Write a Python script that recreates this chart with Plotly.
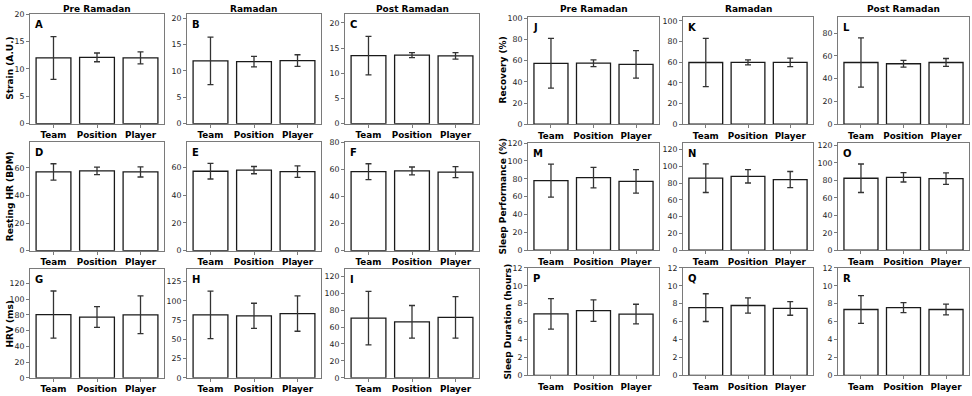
import plotly.graph_objects as go
from plotly.subplots import make_subplots

categories = ["Team", "Position", "Player"]
phases = ["Pre Ramadan", "Ramadan", "Post Ramadan"]

# means / SDs per phase (rows: Pre, Ramadan, Post)
strain_mean = [[12.0, 12.1, 12.0], [11.9, 11.75, 11.95], [13.5, 13.6, 13.45]]
strain_sd = [[3.9, 0.8, 1.1], [4.5, 1.0, 1.1], [3.8, 0.5, 0.65]]
hr_mean = [[57.1, 57.9, 57.1], [57.3, 58.1, 57.0], [58.4, 59.0, 58.1]]
hr_sd = [[5.9, 2.7, 3.7], [5.6, 2.6, 4.1], [5.9, 2.9, 4.1]]
hrv_mean = [[80.3, 77.2, 80.0], [81.8, 80.6, 83.5], [70.6, 66.2, 71.4]]
hrv_sd = [[30.0, 13.2, 24.0], [31.0, 16.3, 23.0], [31.7, 19.3, 24.5]]
rec_mean = [[57.5, 57.6, 56.5], [59.7, 59.8, 59.8], [54.2, 53.1, 54.2]]
rec_sd = [[23.5, 3.2, 13.0], [23.3, 2.5, 4.1], [21.6, 3.0, 3.5]]
sp_mean = [[78.0, 81.3, 77.1], [85.8, 88.1, 84.2], [82.4, 83.5, 82.0]]
sp_sd = [[18.5, 11.5, 13.2], [17.0, 8.0, 9.6], [16.3, 5.4, 6.6]]
sd_mean = [[6.87, 7.22, 6.84], [7.56, 7.8, 7.47], [7.35, 7.56, 7.35]]
sd_sd = [[1.7, 1.2, 1.1], [1.55, 0.85, 0.76], [1.55, 0.56, 0.6]]

metric_labels = ["Strain (A.U.)", "Resting HR (BPM)", "HRV (ms)",
                 "Recovery (%)", "Sleep Performance (%)", "Sleep Duration (hours)"]
panel_letters = ["ABC", "DEF", "GHI", "JKL", "MNO", "PQR"]

# axis maxima and tick steps per panel
ymax = [[20.05, 20.8, 21.8], [78.9, 78.5, 80.5], [137.8, 141, 128.3],
        [101.5, 104, 94.4], [120.4, 128, 123], [12, 12, 12]]
dticks = [[5, 5, 5], [20, 20, 20], [20, 25, 20], [20, 20, 20], [20, 20, 20], [2, 2, 2]]

W, H = 972, 396
left_cols = [(30, 164), (187, 321), (345, 479)]
right_cols = [(528, 659), (683, 813), (838, 969)]
left_rows = [(10, 122.5), (141, 252.5), (271.5, 382.5)]
right_rows = [(13, 123), (142, 252), (270, 380)]
ylab_x = [10, 10, 10, 503, 503, 508]

means = [strain_mean, hr_mean, hrv_mean, rec_mean, sp_mean, sd_mean]
sds = [strain_sd, hr_sd, hrv_sd, rec_sd, sp_sd, sd_sd]

fig = make_subplots(rows=3, cols=6)
FONT = "DejaVu Sans"
annotations = []

for m in range(6):
    grp_right = m >= 3
    r = m % 3
    cols_px = right_cols if grp_right else left_cols
    rows_px = right_rows if grp_right else left_rows
    top, bot = rows_px[r]
    for p in range(3):
        c = p + (4 if grp_right else 1)
        idx = r * 6 + c
        fig.add_trace(go.Bar(
            x=[0, 1, 2], y=means[m][p], width=0.8,
            marker=dict(color="white", line=dict(color="#1a1a1a", width=1.3)),
            error_y=dict(type="data", array=sds[m][p], color="#333333", thickness=1.3, width=3),
            showlegend=False, hoverinfo="skip"), row=r + 1, col=c)
        x0, x1 = cols_px[p]
        xa = "xaxis" if idx == 1 else f"xaxis{idx}"
        ya = "yaxis" if idx == 1 else f"yaxis{idx}"
        fig.layout[xa].update(
            domain=[x0 / W, x1 / W], range=[-0.54, 2.54],
            tickvals=[0, 1, 2], ticktext=[f"<b>{t}</b>" for t in categories],
            tickfont=dict(family=FONT, size=8.8, color="black"),
            showline=True, mirror=True, linecolor="#7a7a7a", linewidth=1,
            ticks="outside", ticklen=3, tickcolor="#7a7a7a", showgrid=False, zeroline=False,
            fixedrange=True)
        fig.layout[ya].update(
            domain=[1 - bot / H, 1 - top / H], range=[0, ymax[m][p]], dtick=dticks[m][p],
            tickfont=dict(family=FONT, size=7.8, color="#222222"),
            showline=True, mirror=True, linecolor="#7a7a7a", linewidth=1,
            ticks="outside", ticklen=3, tickcolor="#7a7a7a", showgrid=False, zeroline=False,
            fixedrange=True)
        # panel letter
        annotations.append(dict(x=(x0 + 3) / W, y=1 - (top + 3) / H, xref="paper", yref="paper",
                                text=f"<b>{panel_letters[m][p]}</b>", showarrow=False,
                                xanchor="left", yanchor="top",
                                font=dict(family=FONT, size=10, color="black")))
        # column titles
        if r == 0:
            annotations.append(dict(x=(x0 + x1) / 2 / W, y=1 - 5 / H, xref="paper", yref="paper",
                                    text=f"<b>{phases[p]}</b>", showarrow=False,
                                    xanchor="center", yanchor="middle",
                                    font=dict(family=FONT, size=9, color="black")))
    # y label
    annotations.append(dict(x=ylab_x[m] / W, y=1 - (top + bot) / 2 / H, xref="paper", yref="paper",
                            text=f"<b>{metric_labels[m]}</b>", showarrow=False, textangle=-90,
                            xanchor="center", yanchor="middle",
                            font=dict(family=FONT, size=9, color="black")))

fig.update_layout(width=W, height=H, margin=dict(l=0, r=0, t=0, b=0),
                  paper_bgcolor="white", plot_bgcolor="white",
                  annotations=annotations, bargap=0.2)
fig.write_html("out.html", config={"displayModeBar": False},
               post_script="document.body.style.margin='0';document.body.style.overflow='hidden';")
